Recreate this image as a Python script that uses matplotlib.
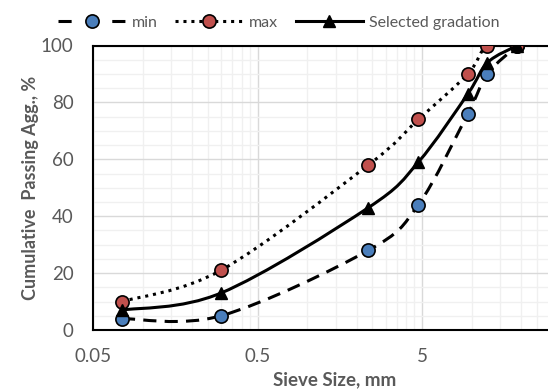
import numpy as np
import matplotlib
matplotlib.use('Agg')
import matplotlib.pyplot as plt
from matplotlib.path import Path
from matplotlib.patches import PathPatch
from matplotlib.lines import Line2D
from matplotlib.ticker import FixedLocator, NullFormatter

# dane z wykresu
sita = [0.075, 0.3, 2.36, 4.75, 9.5, 12.5, 19]
min_przesiew = [4, 5, 28, 44, 76, 90, 100]
max_przesiew = [10, 21, 58, 74, 90, 100, 100]
wybrane = [7, 13, 43, 59, 83, 94, 100]
x_ticki = [0.05, 0.5, 5]
x_etykiety = ['0.05', '0.5', '5']

plt.rcParams['font.family'] = ['Lato', 'DejaVu Sans']
szary = '#595959'
niebieski = '#4a7ebb'
czerwony = '#c0504d'


def gladka_sciezka(xs, ys):
    # wygładzenie jak w Excelu (Catmull-Rom -> Bezier) w przestrzeni log10(x)
    p = np.column_stack([np.log10(xs), ys]).astype(float)
    n = len(p)
    verts = [p[0]]
    codes = [Path.MOVETO]
    for i in range(n - 1):
        p0 = p[i - 1] if i > 0 else p[i]
        p3 = p[i + 2] if i + 2 < n else p[i + 1]
        c1 = p[i] + (p[i + 1] - p0) / 6
        c2 = p[i + 1] - (p3 - p[i]) / 6
        verts += [c1, c2, p[i + 1]]
        codes += [Path.CURVE4] * 3
    verts = np.array(verts)
    verts[:, 0] = 10 ** verts[:, 0]
    return Path(verts, codes)


fig = plt.figure(figsize=(5.48, 3.9), dpi=100)
szer = (586.5 - 93) / 548
ax = fig.add_axes([93 / 548, 60 / 390, szer, (330 - 45.5) / 390])
ax.set_xscale('log')
ax.set_xlim(0.05, 50)
ax.set_ylim(0, 100)

# siatka
ax.xaxis.set_major_locator(FixedLocator(x_ticki))
minor = [b * k for b in [0.05, 0.5, 5] for k in range(2, 10)] + [50]
ax.xaxis.set_minor_locator(FixedLocator(minor))
ax.xaxis.set_minor_formatter(NullFormatter())
ax.set_xticklabels(x_etykiety)
ax.set_yticks(range(0, 101, 20))
ax.set_yticks(range(0, 101, 5), minor=True)
ax.grid(True, which='major', color='#d9d9d9', lw=1.0, zorder=0)
ax.grid(True, which='minor', color='#f0f0f0', lw=1.0, zorder=0)
ax.set_axisbelow(True)

ax.tick_params(which='both', length=0, colors=szary, labelsize=13.5)
ax.tick_params(axis='y', pad=14)
ax.tick_params(axis='x', pad=13)
for s in ['left', 'bottom', 'top']:
    ax.spines[s].set_color('black')
    ax.spines[s].set_linewidth(1.5)
ax.spines['right'].set_visible(False)

# krzywe
lw = 2.2
kreski = (0, (4.3, 2.7))
kropki = (0, (1, 1.6))
ax.add_patch(PathPatch(gladka_sciezka(sita, min_przesiew), fill=False, color='black',
                       lw=lw, linestyle=kreski, zorder=2))
ax.plot(sita, min_przesiew, 'o', ms=9.5, mfc=niebieski, mec='black', mew=1.2, zorder=3)
ax.add_patch(PathPatch(gladka_sciezka(sita, max_przesiew), fill=False, color='black',
                       lw=lw, linestyle=kropki, zorder=2))
ax.plot(sita, max_przesiew, 'o', ms=9.5, mfc=czerwony, mec='black', mew=1.2, zorder=3)
ax.add_patch(PathPatch(gladka_sciezka(sita, wybrane), fill=False, color='black',
                       lw=lw, zorder=4))
ax.plot(sita, wybrane, '^', ms=9, color='black', zorder=5)

ax.set_xlabel('Sieve Size, mm', fontsize=13.5, fontweight='bold', color=szary)
ax.xaxis.set_label_coords((335 - 93) / (586.5 - 93), -(371 - 330) / (330 - 45.5))
ax.set_ylabel('Cumulative  Passing Agg., %', fontsize=13, fontweight='bold', color=szary)
ax.yaxis.set_label_coords(-(93 - 39) / (586.5 - 93), 0.5)

uchwyty = [
    Line2D([], [], color='black', lw=lw, linestyle=(0, (4.3, 13.3)), marker='o', ms=9.5,
           mfc=niebieski, mec='black', mew=1.2),
    Line2D([], [], color='black', lw=lw, linestyle=kropki, marker='o', ms=9.5,
           mfc=czerwony, mec='black', mew=1.2),
    Line2D([], [], color='black', lw=lw, marker='^', ms=9),
]
leg = fig.legend(uchwyty, ['min', 'max', 'Selected gradation'], loc='center',
                 bbox_to_anchor=(279 / 548, 1 - 23 / 390), ncol=3, frameon=False,
                 fontsize=11.5, handlelength=4.2, columnspacing=1.1, handletextpad=0.4,
                 labelcolor=szary)

fig.savefig('out.png', dpi=100)
